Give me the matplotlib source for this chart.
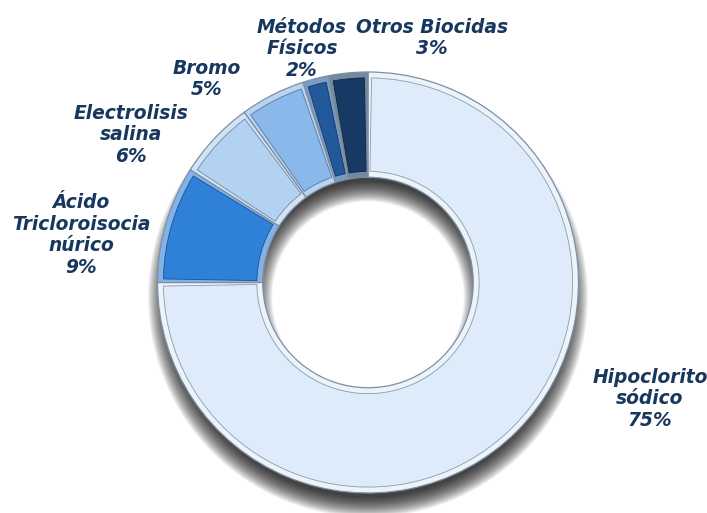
import numpy as np
import matplotlib
matplotlib.use("Agg")
import matplotlib.pyplot as plt
import matplotlib.colors as mcolors
from matplotlib.patches import Wedge

# data
labels = ["Hipoclorito\nsódico", "Ácido\nTricloroisocia\nnúrico", "Electrolisis\nsalina",
          "Bromo", "Métodos\nFísicos", "Otros Biocidas"]
values = [75, 9, 6, 5, 2, 3]
colors = ["#ddebfb", "#2e80d8", "#b3d2f2", "#8ab8ea", "#22599b", "#163a63"]

# label centres in pixels (from top-left)
label_pos = [(650, 399), (81, 235), (131, 135), (207, 79), (302, 49), (432, 38)]

W, H = 707, 513
cx, cy, R = 368, 282.5, 210.5
ring = 0.5

fig = plt.figure(figsize=(W / 100, H / 100), dpi=100)
half = 240
ax = fig.add_axes([(cx - half) / W, (H - cy - half) / H, 2 * half / W, 2 * half / H])
lim = half / R
ax.axis("off")

# blurred drop shadow, offset downwards
n = 24
for s in np.linspace(-0.05, 0.045, n):
    ax.add_patch(Wedge((0, -0.07), 1 + s, 0, 360, width=ring + 2 * s,
                       color="black", alpha=0.05, lw=0, zorder=0))

# bevel: lighter band underneath, base-colour face inset
light = [mcolors.to_hex(0.6 * np.array(mcolors.to_rgb(c)) + 0.4) for c in colors]
dark = [mcolors.to_hex(0.65 * np.array(mcolors.to_rgb(c))) for c in colors]
band, _ = ax.pie(values, colors=light, startangle=90, counterclock=False, radius=1,
                 wedgeprops=dict(width=ring, edgecolor="#7f8fa3", linewidth=0.9))
face, _ = ax.pie(values, colors=colors, startangle=90, counterclock=False, radius=0.972,
                 wedgeprops=dict(width=ring - 0.056, linewidth=0.6))
for w, d in zip(face, dark):
    w.set_edgecolor(d)
    w.set_theta1(w.theta1 + 1.0)
    w.set_theta2(w.theta2 - 1.0)
ax.set_xlim(-lim, lim)
ax.set_ylim(-lim, lim)
ax.set_aspect("auto")

for lab, v, (px, py) in zip(labels, values, label_pos):
    fig.text(px / W, 1 - py / H, f"{lab}\n{v}%", ha="center", va="center",
             fontsize=13.4, fontweight="bold", fontstyle="italic", color="#17375e",
             family="DejaVu Sans", linespacing=1.17)

fig.savefig("out.png", dpi=100)
